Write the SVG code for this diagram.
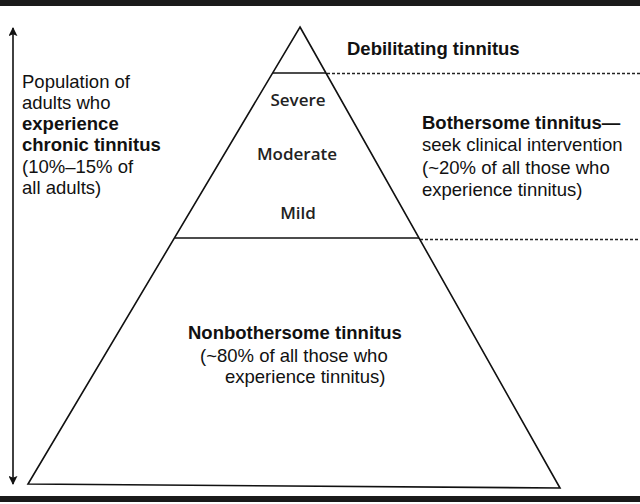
<svg xmlns="http://www.w3.org/2000/svg" width="640" height="504" viewBox="0 0 640 504">
<style>
.t{font-family:"Liberation Sans",Arial,sans-serif;font-size:18.5px;fill:#111}
.b{font-weight:bold}
.lv{font-family:"Open Sans","Noto Sans",sans-serif;font-weight:600;font-size:17px;fill:#222;text-anchor:middle}
.ln{stroke:#111;stroke-width:1.6;fill:none}
.dash{stroke:#222;stroke-width:1.3;stroke-dasharray:3 2;fill:none}
</style>
<defs>
<marker id="ah" viewBox="0 0 10 10" refX="9" refY="5" markerWidth="9" markerHeight="9" markerUnits="userSpaceOnUse" orient="auto">
<path d="M0,0 L10,5 L0,10 L2,5 Z" fill="#111"/>
</marker>
</defs>
<rect x="0" y="0" width="640" height="6" fill="#1a1a1a"/>
<rect x="0" y="496" width="640" height="6" fill="#1a1a1a"/>
<g id="connectors">
<line class="ln" x1="13" y1="256" x2="13" y2="28" marker-end="url(#ah)"/>
<line class="ln" x1="13" y1="256" x2="13" y2="484" marker-end="url(#ah)"/>
<line class="dash" x1="327" y1="73.5" x2="640" y2="73.5"/>
<line class="dash" x1="420" y1="239.5" x2="640" y2="239.5"/>
</g>
<g id="pyramid">
<path class="ln" d="M300,27 L560,488 L28,484 Z"/>
<line class="ln" x1="273" y1="73" x2="326" y2="73"/>
<line class="ln" x1="175" y1="238" x2="419" y2="238" stroke-width="2"/>
</g>
<g id="debilitating">
<text class="t b" x="347" y="55" font-size="19.5">Debilitating tinnitus</text>
</g>
<g id="levels">
<text class="lv" x="298" y="106">Severe</text>
<text class="lv" x="297" y="160">Moderate</text>
<text class="lv" x="298" y="219">Mild</text>
</g>
<g id="population">
<text class="t" x="22" y="87.5">Population of</text>
<text class="t" x="22" y="108.5">adults who</text>
<text class="t b" x="22" y="130">experience</text>
<text class="t b" x="22" y="151">chronic tinnitus</text>
<text class="t" x="22" y="172.5">(10%–15% of</text>
<text class="t" x="22" y="193.5">all adults)</text>
</g>
<g id="bothersome">
<text class="t b" x="422" y="128.5" font-size="19">Bothersome tinnitus—</text>
<text class="t" x="422" y="151" font-size="19">seek clinical intervention</text>
<text class="t" x="422" y="173.5" font-size="19">(~20% of all those who</text>
<text class="t" x="422" y="196" font-size="19">experience tinnitus)</text>
</g>
<g id="nonbothersome">
<text class="t b" x="188" y="339">Nonbothersome tinnitus</text>
<text class="t" x="200" y="361.5">(~80% of all those who</text>
<text class="t" x="225" y="382.5" font-size="18">experience tinnitus)</text>
</g>
</svg>
